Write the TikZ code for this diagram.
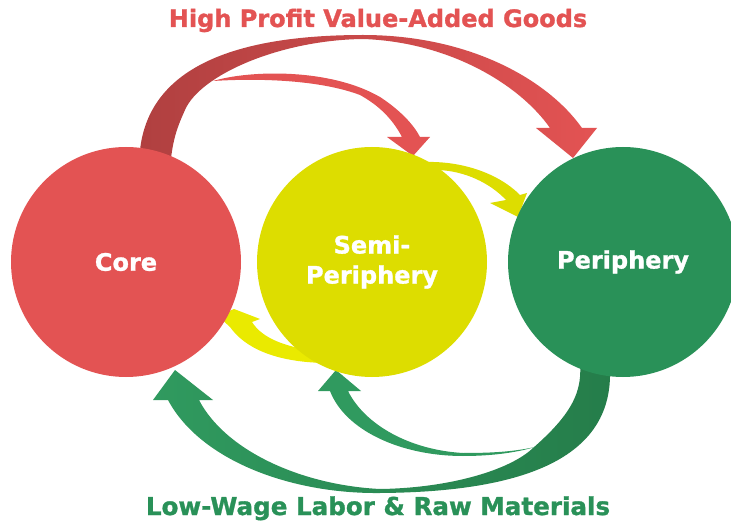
\documentclass[tikz,border=0pt]{standalone}
\usepackage{fontspec}
\setmainfont{DejaVu Sans}
\newfontfamily\heavyfont{DejaVu Sans Bold}[FakeBold=1.2]
\definecolor{coreRed}{RGB}{227,83,83}
\definecolor{coreDark}{RGB}{176,64,64}
\definecolor{semiYel}{RGB}{221,221,0}
\definecolor{semiBright}{RGB}{234,234,0}
\definecolor{periGreen}{RGB}{41,145,88}
\definecolor{flowGreen}{RGB}{48,154,95}
\definecolor{periDark}{RGB}{37,125,74}

\begin{document}
\begin{tikzpicture}[x=1pt, y=-1pt,
    disc/.style={circle, minimum size=230pt, inner sep=0pt, text=white, align=center,
      font=\fontsize{24}{30}\selectfont\heavyfont},
    caption/.style={anchor=base, font=\fontsize{24}{30}\selectfont\heavyfont}]
    \useasboundingbox (0,0) rectangle (731,521);

    % goods flowing out of the core
    \shade[left color=coreDark, middle color=coreRed, right color=coreRed]
      (138,190) -- (140,150) .. controls (150,60) and (250,35) .. (363,35)
      .. controls (470,35) and (548,80) .. (582,128) -- (597,128) -- (573,158) -- (536,128) -- (550,128)
      .. controls (520,85) and (450,42) .. (363,39)
      .. controls (280,40) and (200,75) .. (185,110)
      .. controls (176,130) and (170,145) .. (169,190) -- cycle;
    \fill[coreRed] (213,81) .. controls (250,70) and (330,68) .. (380,97)
      .. controls (400,110) and (414,125) .. (420,137) -- (430,137) -- (413,156) -- (387,137) -- (402,137)
      .. controls (392,118) and (378,105) .. (360,95)
      .. controls (320,80) and (260,78) .. (213,81) -- cycle;
    \fill[semiYel] (425,162) .. controls (460,161) and (497,172) .. (520,195) -- (527,193) -- (518,217)
      -- (490,203) -- (506,200) .. controls (490,183) and (465,171) .. (438,170) -- (425,168) -- cycle;
    \fill[semiBright] (218,316) -- (234,309) -- (260,319) -- (252,322)
      .. controls (262,338) and (285,348) .. (325,352) -- (325,363)
      .. controls (275,362) and (245,348) .. (230,327) -- cycle;

    % labour and raw materials flowing back
    \shade[left color=flowGreen, middle color=flowGreen, right color=periDark]
      (612,340) -- (610,377) .. controls (608,460) and (520,492) .. (380,493)
      .. controls (290,494) and (200,460) .. (168,400) -- (153,400) -- (175,370) -- (213,400) -- (199,400)
      .. controls (225,450) and (300,485) .. (380,489)
      .. controls (450,488) and (510,470) .. (533,448)
      .. controls (565,420) and (578,400) .. (580,377) -- (582,340) -- cycle;
    \fill[flowGreen] (330,391) .. controls (345,430) and (400,456) .. (463,456)
      .. controls (490,456) and (515,453) .. (535,447)
      .. controls (512,452) and (490,453) .. (463,453)
      .. controls (410,450) and (365,425) .. (348,391) -- (361,391) -- (336,370) -- (318,391) -- cycle;

    \node[disc, fill=coreRed] (core) at (126,262) {Core};
    \node[disc, fill=semiYel] (semi) at (372,262) {Semi-\\Periphery};
    \node[disc, fill=periGreen] (peri) at (623,262) {Periphery};

    \node[caption, text=coreRed] (goods) at (378,27) {High Profit Value-Added Goods};
    \node[caption, text=periGreen, font=\fontsize{24.6}{30}\selectfont\heavyfont] (labour) at (378,515) {Low-Wage Labor \& Raw Materials};
\end{tikzpicture}
\end{document}
